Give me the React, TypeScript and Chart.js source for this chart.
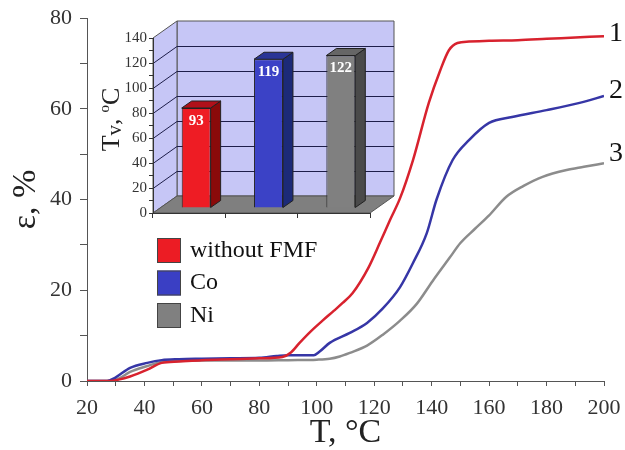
import React, { useEffect, useRef } from 'react';
import { Chart, registerables } from 'chart.js';
Chart.register(...registerables);

const SERIF = '"Liberation Serif", "DejaVu Serif", "Times New Roman", serif';

// ---- main chart data ----
const redT = [20, 28, 31, 35, 41, 46, 52, 60, 70, 80, 88, 91, 94, 98, 102, 106, 109, 112.5, 118, 122, 125.5, 129, 133.5, 139, 143, 146, 149, 153, 160, 170, 180, 190, 200];
const redE = [0, 0, 0.3, 1.0, 2.5, 4.0, 4.3, 4.6, 4.8, 5.0, 5.3, 6.3, 8.4, 11.0, 13.3, 15.5, 17.2, 19.4, 25.0, 30.5, 35.5, 40.3, 48.7, 61.3, 68.5, 72.9, 74.5, 74.8, 75.0, 75.1, 75.4, 75.7, 76.0];

const blueT = [20, 27, 30, 35, 41, 46, 52, 60, 70, 80, 86, 90, 99, 101, 104.5, 111.5, 117.5, 123, 129, 133.5, 138.3, 141.7, 147.3, 153, 160, 168, 180, 191.5, 200];
const blueE = [0, 0, 0.8, 2.9, 4.0, 4.6, 4.8, 4.9, 5.0, 5.1, 5.5, 5.7, 5.7, 6.5, 8.4, 10.6, 12.8, 16.0, 20.7, 26.0, 32.6, 40.0, 48.7, 53.1, 56.9, 58.2, 59.7, 61.3, 62.8];

const grayT = [20, 28, 31, 35, 41, 46, 52, 60, 70, 80, 90, 100, 104.5, 108, 111.5, 117.5, 123, 129, 134.8, 140.3, 146.3, 150, 155, 160, 166, 172, 178.6, 187, 193, 200];
const grayE = [0, 0, 0.5, 2.0, 3.3, 4.2, 4.4, 4.5, 4.5, 4.5, 4.6, 4.7, 4.9, 5.4, 6.2, 7.8, 10.2, 13.3, 17.0, 22.0, 27.2, 30.4, 33.5, 36.5, 40.6, 43.0, 45.0, 46.5, 47.2, 48.0];

const seriesNames = ['without FMF', 'Co', 'Ni'];
const curveLabels = ['1', '2', '3'];
const lineColors = ['#d8222e', '#3636a6', '#8c8c8c'];
const legendColors = ['#ec1c24', '#3a3fc4', '#808080'];

const xMin = 20, xMax = 200, xStep = 10, xLabelStep = 20;
const yMin = 0, yMax = 80, yStep = 10, yLabelStep = 20;

// ---- inset bar chart data ----
const barCategories = ['without FMF', 'Co', 'Ni'];
const barHeights = [80, 119, 122];
const barLabels = ['93', '119', '122'];
const barFront = ['#ee1c24', '#3b42c6', '#808080'];
const barSide = ['#8a0a0a', '#1c2a78', '#4a4a4a'];
const barTop = ['#b0101a', '#2a3596', '#666666'];
const insetMax = 140, insetStep = 10, insetLabelStep = 20;

const curveLabelPlugin = {
  id: 'curveLabels',
  afterDatasetsDraw(chart: any) {
    const { ctx } = chart;
    const dys = [-3, -5, -10];
    ctx.save();
    ctx.font = `28px ${SERIF}`;
    ctx.fillStyle = '#111';
    ctx.textAlign = 'left';
    ctx.textBaseline = 'middle';
    chart.data.datasets.forEach((ds: any, i: number) => {
      const meta = chart.getDatasetMeta(i);
      const pt = meta.data[meta.data.length - 1];
      ctx.fillText(curveLabels[i], pt.x + 5, pt.y + dys[i]);
    });
    ctx.restore();
  },
};

const legendPlugin = {
  id: 'boxLegend',
  afterDraw(chart: any) {
    const { ctx, chartArea } = chart;
    const x0 = chartArea.left + 70;
    const y0 = 238;
    ctx.save();
    ctx.font = `24px ${SERIF}`;
    ctx.textAlign = 'left';
    ctx.textBaseline = 'middle';
    seriesNames.forEach((name, i) => {
      const y = y0 + i * 32.5;
      ctx.fillStyle = legendColors[i];
      ctx.fillRect(x0, y, 24, 25);
      ctx.strokeStyle = '#444';
      ctx.lineWidth = 1;
      ctx.strokeRect(x0 + 0.5, y + 0.5, 23, 24);
      ctx.fillStyle = '#111';
      ctx.fillText(name, x0 + 33, y + 12.5);
    });
    ctx.restore();
  },
};

const DX = 24, DY = 17;
const SHIFT_X = 7, SHIFT_Y = -5;
const BDX = 10, BDY = 7;

function poly(ctx: any, pts: number[][], fill: string, stroke?: string) {
  ctx.beginPath();
  ctx.moveTo(pts[0][0], pts[0][1]);
  for (let i = 1; i < pts.length; i++) ctx.lineTo(pts[i][0], pts[i][1]);
  ctx.closePath();
  ctx.fillStyle = fill;
  ctx.fill();
  if (stroke) {
    ctx.strokeStyle = stroke;
    ctx.stroke();
  }
}

const inset3DPlugin = {
  id: 'inset3D',
  beforeDraw(chart: any) {
    const { ctx, chartArea: a, scales } = chart;
    const y = scales.y;
    const L = a.left, R = a.right;
    const B = y.getPixelForValue(0), T = y.getPixelForValue(insetMax);
    ctx.save();
    ctx.lineWidth = 1;
    poly(ctx, [[L + DX, T - DY], [R + DX, T - DY], [R + DX, B - DY], [L + DX, B - DY]], '#c6c6f6', '#555');
    poly(ctx, [[L, T], [L + DX, T - DY], [L + DX, B - DY], [L, B]], '#c6c6f6', '#555');
    ctx.strokeStyle = '#1e1e4a';
    for (let v = insetLabelStep; v <= insetMax - insetLabelStep; v += insetLabelStep) {
      const py = Math.round(y.getPixelForValue(v)) + 0.5;
      ctx.beginPath();
      ctx.moveTo(L, py);
      ctx.lineTo(L + DX, py - DY);
      ctx.lineTo(R + DX, py - DY);
      ctx.stroke();
    }
    poly(ctx, [[L, B], [R, B], [R + DX, B - DY], [L + DX, B - DY]], '#7f7f7f', '#555');
    ctx.restore();
  },
  beforeDatasetsDraw(chart: any) {
    chart.ctx.save();
    chart.ctx.translate(SHIFT_X, SHIFT_Y);
  },
  afterDatasetsDraw(chart: any) {
    const { ctx } = chart;
    const meta = chart.getDatasetMeta(0);
    ctx.lineWidth = 1;
    meta.data.forEach((el: any, i: number) => {
      const { x, y, base, width } = el.getProps(['x', 'y', 'base', 'width'], true);
      const l = x - width / 2, r = x + width / 2;
      poly(ctx, [[r, y], [r + BDX, y - BDY], [r + BDX, base - BDY], [r, base]], barSide[i], '#222');
      poly(ctx, [[l, y], [l + BDX, y - BDY], [r + BDX, y - BDY], [r, y]], barTop[i], '#222');
      ctx.font = `bold 15px ${SERIF}`;
      ctx.fillStyle = '#ffffff';
      ctx.textAlign = 'center';
      ctx.textBaseline = 'middle';
      ctx.fillText(barLabels[i], x, y + 13);
    });
    ctx.restore();
  },
  afterDraw(chart: any) {
    const { ctx, chartArea: a } = chart;
    const cx = 11, cy = (a.top + a.bottom) / 2 - 6;
    ctx.save();
    ctx.translate(cx, cy);
    ctx.rotate(-Math.PI / 2);
    ctx.fillStyle = '#222';
    ctx.textBaseline = 'alphabetic';
    ctx.textAlign = 'left';
    const parts: [string, number, number][] = [
      ['T', 26, 0],
      ['v', 21, 2],
      [', ', 25, 0],
      ['o', 15, -10],
      ['C', 26, 0],
    ];
    let total = 0;
    parts.forEach(([t, s]) => {
      ctx.font = `${s}px ${SERIF}`;
      total += ctx.measureText(t).width;
    });
    let px = -total / 2;
    const baseY = 8;
    parts.forEach(([t, s, dy]) => {
      ctx.font = `${s}px ${SERIF}`;
      ctx.fillText(t, px, baseY + dy);
      px += ctx.measureText(t).width;
    });
    ctx.restore();
  },
};

export default function App() {
  const mainRef = useRef<HTMLCanvasElement>(null);
  const insetRef = useRef<HTMLCanvasElement>(null);

  useEffect(() => {
    const series = [
      { T: redT, E: redE },
      { T: blueT, E: blueE },
      { T: grayT, E: grayE },
    ];
    const axisColor = '#555';
    const tickColor = '#333';
    const main = new Chart(mainRef.current as HTMLCanvasElement, {
      type: 'line',
      data: {
        datasets: series.map((s, i) => ({
          label: seriesNames[i],
          data: s.T.map((t, j) => ({ x: t, y: s.E[j] })),
          borderColor: lineColors[i],
          backgroundColor: lineColors[i],
          borderWidth: 2.5,
          pointRadius: 0,
          fill: false,
          cubicInterpolationMode: 'monotone' as const,
        })),
      },
      options: {
        responsive: false,
        animation: false,
        layout: { padding: { top: 18, right: 21, left: 0, bottom: 0 } },
        plugins: { legend: { display: false }, tooltip: { enabled: false } },
        scales: {
          x: {
            type: 'linear',
            min: xMin,
            max: xMax,
            afterFit: (s: any) => { s.height = 69; s.paddingLeft = 0; s.paddingRight = 0; },
            ticks: {
              stepSize: xStep,
              autoSkip: false,
              maxRotation: 0,
              padding: 9,
              color: tickColor,
              font: { family: SERIF, size: 22 },
              callback: (v: any) => (v % xLabelStep === 0 ? String(v) : ''),
            },
            grid: { drawOnChartArea: false, drawTicks: true, tickLength: 5, color: axisColor },
            border: { display: true, color: axisColor, width: 1 },
            title: {
              display: true,
              text: 'T, °C',
              color: '#222',
              font: { family: SERIF, size: 34, lineHeight: 1 },
              padding: { top: 0, bottom: 0 },
            },
          },
          y: {
            min: yMin,
            max: yMax,
            afterFit: (s: any) => { s.width = 87; s.paddingTop = 0; s.paddingBottom = 0; },
            ticks: {
              stepSize: yStep,
              autoSkip: false,
              padding: 8,
              color: tickColor,
              font: { family: SERIF, size: 22 },
              callback: (v: any) => (v % yLabelStep === 0 ? String(v) : ''),
            },
            grid: { drawOnChartArea: false, drawTicks: true, tickLength: 7, color: axisColor },
            border: { display: true, color: axisColor, width: 1 },
            title: {
              display: true,
              text: 'ε, %',
              color: '#222',
              font: { family: SERIF, size: 34, lineHeight: 1 },
              padding: { top: 9, bottom: 0 },
            },
          },
        },
      },
      plugins: [curveLabelPlugin, legendPlugin],
    } as any);

    const inset = new Chart(insetRef.current as HTMLCanvasElement, {
      type: 'bar',
      data: {
        labels: barCategories,
        datasets: [
          {
            data: barHeights,
            backgroundColor: barFront,
            borderColor: '#222',
            borderWidth: 1,
            barPercentage: 0.4,
            categoryPercentage: 1,
          },
        ],
      },
      options: {
        responsive: false,
        animation: false,
        layout: { padding: { top: 38, right: 30, left: 0, bottom: 0 } },
        plugins: { legend: { display: false }, tooltip: { enabled: false } },
        scales: {
          x: {
            afterFit: (s: any) => { s.height = 17; s.paddingLeft = 0; s.paddingRight = 0; },
            ticks: { display: false },
            grid: { drawOnChartArea: false, drawTicks: true, tickLength: 5, color: '#333', offset: true },
            border: { display: true, color: '#333' },
          },
          y: {
            min: 0,
            max: insetMax,
            afterFit: (s: any) => { s.width = 53; s.paddingTop = 0; s.paddingBottom = 0; },
            ticks: {
              stepSize: insetStep,
              autoSkip: false,
              padding: 2,
              color: '#333',
              font: { family: SERIF, size: 15 },
              callback: (v: any) => (v % insetLabelStep === 0 ? String(v) : ''),
            },
            grid: { drawOnChartArea: false, drawTicks: true, tickLength: 4, color: '#333' },
            border: { display: true, color: '#333' },
          },
        },
      },
      plugins: [inset3DPlugin],
    } as any);

    return () => {
      main.destroy();
      inset.destroy();
    };
  }, []);

  return (
    <div style={{ position: 'absolute', left: 0, top: 0, width: 625, height: 450, background: '#fff' }}>
      <canvas ref={mainRef} width={625} height={450} style={{ position: 'absolute', left: 0, top: 0 }} />
      <canvas ref={insetRef} width={300} height={230} style={{ position: 'absolute', left: 100, top: 0 }} />
    </div>
  );
}
